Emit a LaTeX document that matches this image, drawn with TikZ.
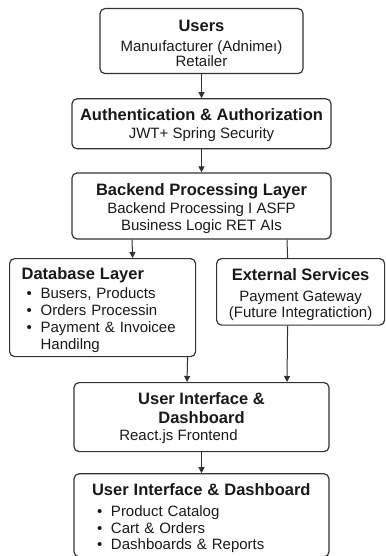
\documentclass[tikz,border=0pt]{standalone}
\usepackage{fontspec}
\setmainfont{Liberation Sans}
\usetikzlibrary{positioning,arrows.meta}

\newcommand\hd{\fontsize{16.5}{19}\selectfont\bfseries}
\newcommand\bd{\fontsize{15}{17}\selectfont}
\newcommand\tp[1]{\rule{0pt}{#1}}
\newcommand\bt[1]{\rule[-#1]{0pt}{#1}}
\newcommand\itm{\hspace*{5pt}\makebox[14pt][l]{\textbullet}}

\tikzset{
  box/.style={draw=black!80, line width=1.2pt, rounded corners=5pt, inner xsep=0pt, inner ysep=0pt, align=center, font=\bd, text=black!90},
  listbox/.style={box, align=left},
  arr/.style={draw=black!80, line width=1pt, -{Triangle[length=6pt,width=6pt]}},
  link/.style={draw=black!80, line width=1pt},
}

\begin{document}
\begin{tikzpicture}[x=1pt, y=1pt]
\useasboundingbox (0,0) rectangle (385,-556);

\node[box, anchor=north, minimum width=203pt] (users) at (201.5,-8)
  {\tp{23pt}{\hd Users}\\[3pt]Manuıfacturer (Adnimeı)\\[-2pt]Retailer\bt{7pt}};
\node[box, below=24pt of users, minimum width=259pt] (auth)
  {\tp{22pt}{\hd Authentication \& Authorization}\\[1pt]JWT+ Spring Security\bt{10pt}};
\node[box, below=23pt of auth, minimum width=259pt] (backend)
  {\tp{22pt}{\hd Backend Processing Layer}\\[1pt]Backend Processing I ASFP\\Business Logic RET AIs\bt{9pt}};
\node[listbox, anchor=north west, text width=162pt, inner xsep=12pt] (db) at (9,-258)
  {\tp{21pt}{\hd Database Layer}\\[2pt]
   \itm Busers, Products\\
   \itm Orders Processin\\
   \itm Payment \& Invoicee\\
   \hspace*{19pt}Handilng\bt{7pt}};
\node[box, anchor=north west, minimum width=168pt] (ext) at (216,-258)
  {\tp{22pt}{\hd External Services}\\[4pt]Payment Gateway\\[-1.5pt](Future Integratiction)\bt{8pt}};
\node[box, anchor=north, minimum width=255pt] (ui) at (201.5,-382)
  {\tp{22pt}{\hd User Interface \&}\\[2pt]{\hd Dashboard}\\React.js Frontend\hspace*{46pt}\bt{11pt}};
\node[listbox, below=21pt of ui, text width=219pt, inner xsep=18pt] (feat)
  {\tp{22pt}{\hd User Interface \& Dashboard}\\[4pt]
   \itm Product Catalog\\
   \itm Cart \& Orders\\[-1pt]
   \itm Dashboards \& Reports\bt{7pt}};

\draw[arr] (users) -- (auth);
\draw[arr] (auth) -- (backend);
\draw[arr] ([xshift=-69.5pt]backend.south) -- ([xshift=30pt]db.north);
\draw[link] ([xshift=85.5pt]backend.south) -- ([xshift=-13pt]ext.north);
\draw[arr] ([xshift=85pt]db.south) -- ([xshift=-14.5pt]ui.north);
\draw[arr] ([xshift=-13pt]ext.south) -- ([xshift=85.5pt]ui.north);
\draw[arr] (ui) -- (feat);
\end{tikzpicture}
\end{document}
